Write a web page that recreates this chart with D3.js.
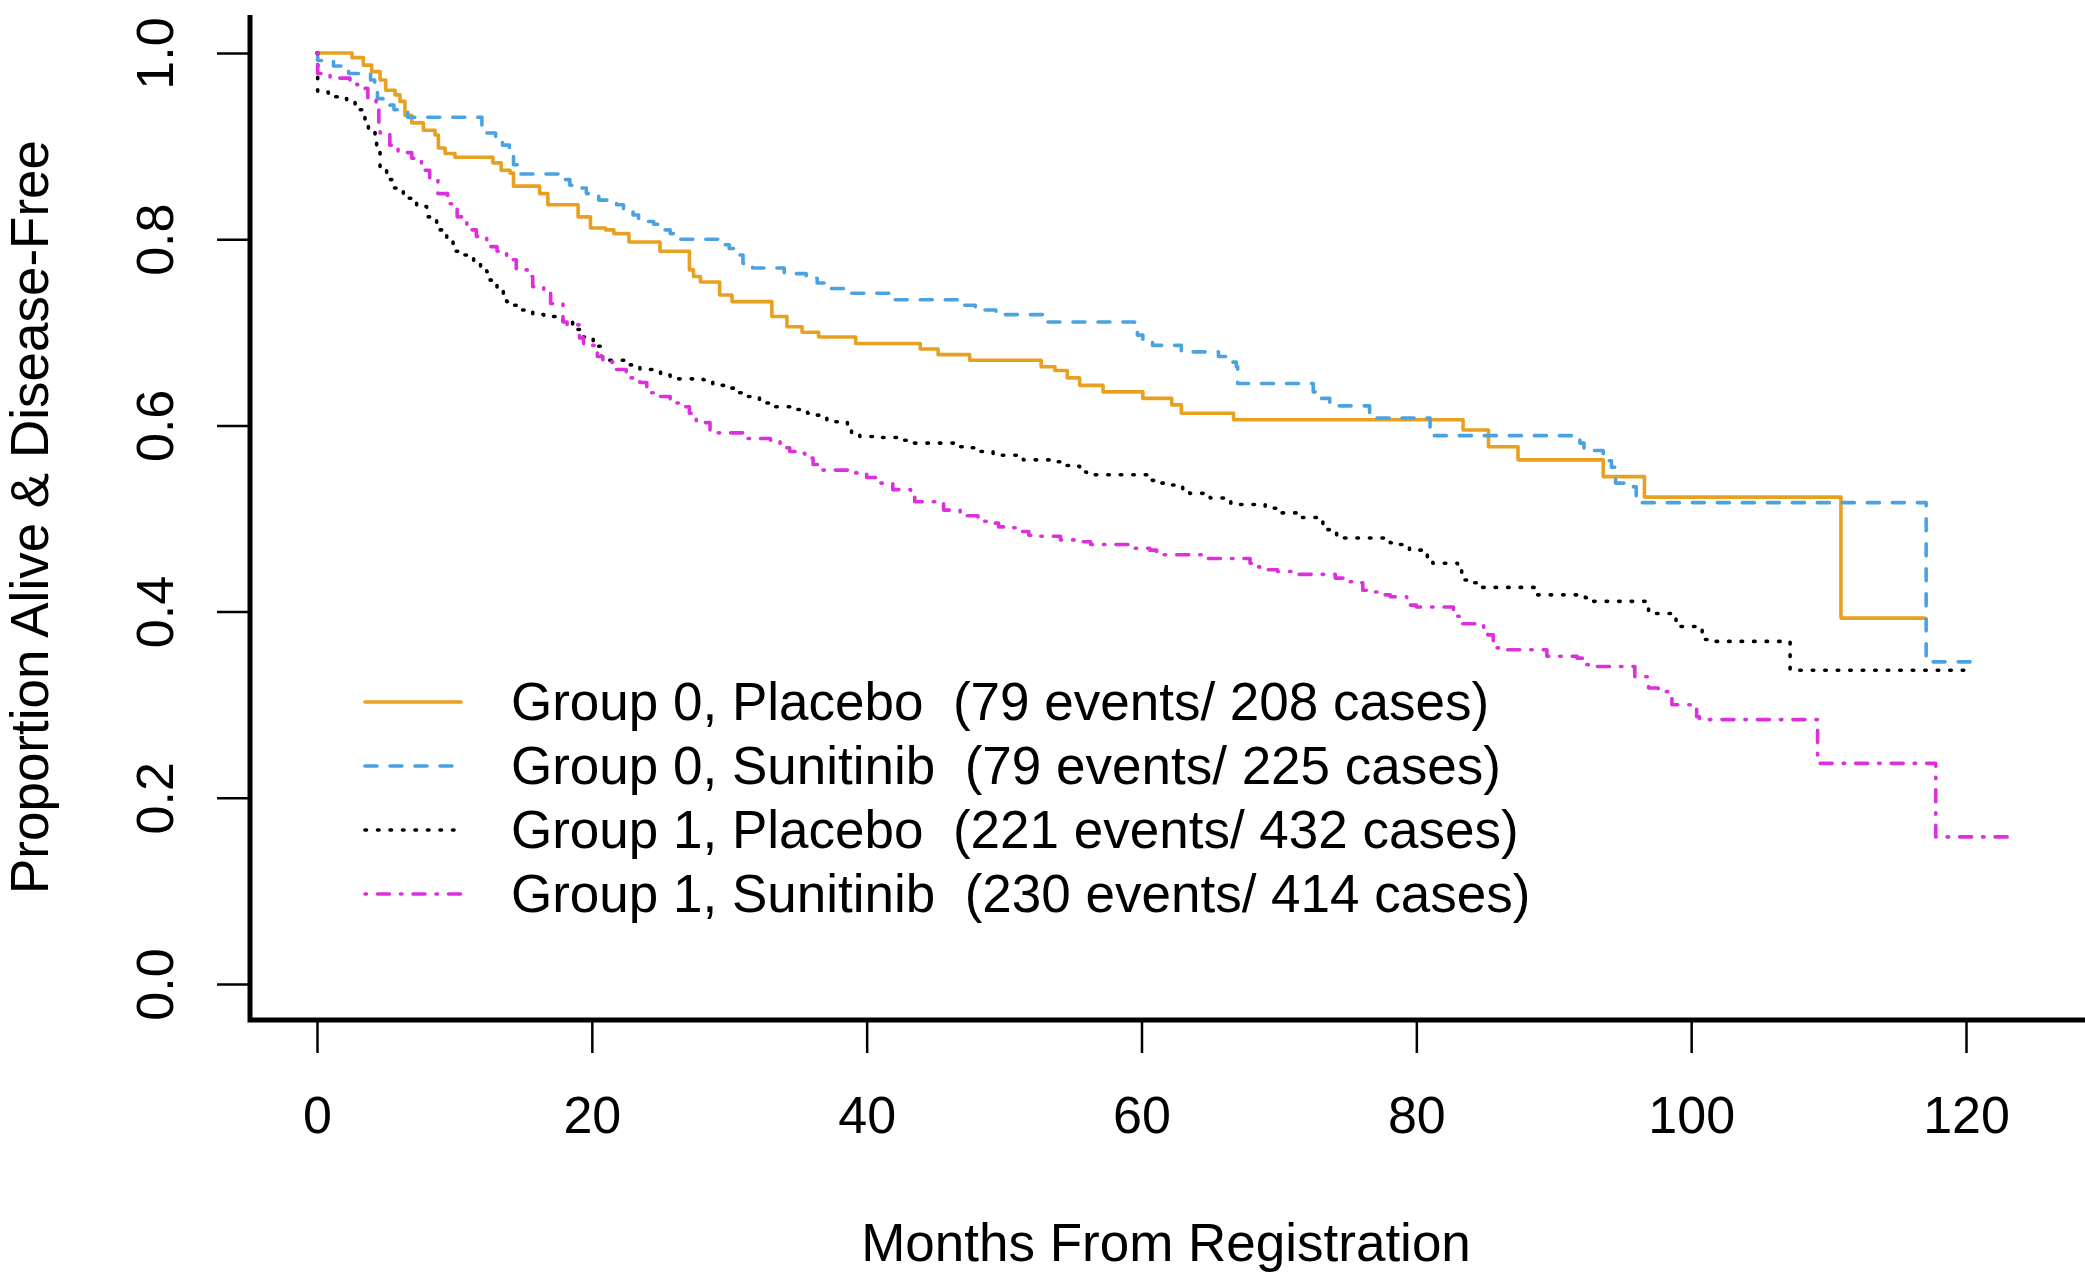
<!DOCTYPE html>
<html><head><meta charset="utf-8">
<script src="https://cdn.jsdelivr.net/npm/d3@7"></script>
<style>body{margin:0;background:#fff} svg{display:block;background:#fff}</style>
</head><body>
<svg id="chart" width="2085" height="1272"></svg>
<script>
// ---- data ----
const xTicks = [0, 20, 40, 60, 80, 100, 120];
const yTicks = [0, 0.2, 0.4, 0.6, 0.8, 1.0];
const yTickLabels = ["0.0", "0.2", "0.4", "0.6", "0.8", "1.0"];
const xTitle = "Months From Registration";
const yTitle = "Proportion Alive & Disease-Free";

const seriesNames = [
  "Group 0, Placebo  (79 events/ 208 cases)",
  "Group 0, Sunitinib  (79 events/ 225 cases)",
  "Group 1, Placebo  (221 events/ 432 cases)",
  "Group 1, Sunitinib  (230 events/ 414 cases)"
];
const seriesColors = ["#E8A020", "#4AA3E0", "#000000", "#DD30DD"];
const seriesDash = ["none", "12,13", "1.5,11", "1.5,11,12,11"];

const g0PlaceboT = [0,2.55,3.37,3.98,4.59,5.0,5.68,6.04,6.4,6.89,7.74,8.59,8.83,9.32,10.04,12.8,13.4,14.05,14.3,16.2,16.8,19.0,19.9,21.0,21.6,22.7,24.96,27.1,27.4,27.9,29.3,30.2,33.1,34.2,35.3,36.5,39.2,43.9,45.2,47.5,52.7,53.7,54.6,55.5,57.2,60.1,62.2,62.9,66.7,83.4,85.25,87.4,93.6,96.6,110.9,117.0];
const g0PlaceboS = [1.0,0.995,0.987,0.980,0.971,0.960,0.955,0.948,0.933,0.925,0.917,0.912,0.898,0.892,0.888,0.882,0.874,0.871,0.857,0.849,0.837,0.824,0.812,0.810,0.806,0.797,0.787,0.767,0.760,0.754,0.740,0.733,0.717,0.706,0.700,0.695,0.688,0.682,0.676,0.670,0.663,0.659,0.651,0.643,0.636,0.629,0.622,0.613,0.606,0.595,0.577,0.563,0.545,0.523,0.393,0.393];

const g0SunitinibT = [0,0.05,1.2,2.3,3.9,4.2,4.4,4.8,5.6,6.6,12.0,12.35,13.0,13.5,14.0,14.3,14.8,17.9,18.4,19.1,19.6,20.5,21.8,22.3,23.0,23.4,24.5,25.0,25.7,26.1,29.5,30.0,30.7,31.0,31.7,34.0,35.6,36.4,36.9,38.8,41.9,47.0,47.9,49.4,52.8,59.5,59.7,60.1,60.8,62.9,65.6,66.3,66.9,67.0,72.5,73.1,73.7,76.6,81.0,91.9,92.2,93.6,94.2,94.5,95.8,96.0,96.4,117.1,120.8];
const g0SunitinibS = [1.0,0.992,0.986,0.978,0.971,0.964,0.951,0.944,0.939,0.931,0.921,0.914,0.906,0.901,0.890,0.880,0.870,0.864,0.858,0.855,0.849,0.842,0.837,0.831,0.826,0.819,0.816,0.810,0.806,0.800,0.794,0.790,0.783,0.774,0.769,0.763,0.758,0.753,0.747,0.742,0.735,0.729,0.724,0.719,0.711,0.704,0.697,0.692,0.686,0.679,0.674,0.668,0.663,0.645,0.636,0.629,0.621,0.608,0.589,0.581,0.573,0.562,0.555,0.538,0.534,0.520,0.517,0.346,0.346];

const g1PlaceboT = [0,0.05,0.82,1.55,2.16,2.77,3.49,3.74,4.22,4.34,4.59,5.07,5.56,6.28,7.25,7.98,8.71,9.44,9.9,10.4,10.9,11.4,11.9,12.35,12.6,13.1,13.56,13.8,14.3,14.8,15.4,15.7,16.5,17.9,18.6,19.1,20.1,20.4,20.7,21.3,22.8,23.5,25.0,25.7,28.1,28.8,29.6,30.7,31.0,32.2,33.0,34.9,35.7,36.4,37.1,38.6,38.9,39.5,40.5,42.4,43.2,46.6,47.5,48.3,49.2,51.4,53.3,54.3,54.7,55.5,56.0,60.4,61.4,62.1,63.0,63.5,64.5,65.0,66.5,69.0,69.9,71.5,73.0,73.2,74.2,74.7,78.1,78.8,79.5,80.8,81.2,83.0,83.3,83.9,84.6,88.8,92.3,92.5,96.9,98.9,100.8,101.3,107.2,119.9];
const g1PlaceboS = [1.0,0.958,0.953,0.951,0.948,0.939,0.928,0.916,0.908,0.896,0.878,0.864,0.855,0.844,0.835,0.824,0.810,0.799,0.787,0.783,0.780,0.774,0.769,0.765,0.756,0.745,0.738,0.733,0.729,0.724,0.722,0.719,0.717,0.711,0.703,0.695,0.690,0.685,0.674,0.670,0.665,0.660,0.654,0.650,0.649,0.643,0.640,0.635,0.631,0.624,0.620,0.617,0.613,0.611,0.604,0.595,0.592,0.588,0.587,0.584,0.581,0.577,0.576,0.572,0.568,0.563,0.561,0.557,0.556,0.550,0.547,0.541,0.538,0.536,0.531,0.527,0.523,0.522,0.515,0.511,0.506,0.501,0.497,0.488,0.481,0.479,0.474,0.472,0.466,0.459,0.452,0.445,0.434,0.431,0.426,0.418,0.415,0.411,0.398,0.384,0.370,0.368,0.337,0.337];

const g1SunitinibT = [0,0.05,0.95,2.4,2.9,3.1,3.7,4.3,4.5,4.6,5.3,5.9,6.9,7.6,8.2,8.8,9.5,10.2,10.9,11.6,12.35,13.1,13.8,14.5,15.3,15.7,16.5,17.0,17.9,18.2,19.1,19.4,20.4,20.8,21.8,22.5,23.5,24.0,25.0,25.7,26.6,27.1,27.6,28.6,31.0,33.0,33.7,34.4,34.9,35.5,36.1,36.8,39.0,40.0,40.8,41.9,43.2,43.5,45.0,45.6,46.8,48.1,48.5,49.0,49.6,50.3,51.0,51.8,52.4,54.1,55.5,56.3,59.4,60.6,61.1,64.5,67.9,68.4,68.6,69.9,71.1,74.1,74.7,75.4,76.1,76.6,77.6,78.1,79.3,79.5,80.0,82.7,83.2,84.9,85.2,85.6,86.1,89.5,91.7,92.2,92.6,95.9,96.9,97.6,98.6,100.4,100.6,109.2,117.8,123.5];
const g1SunitinibS = [1.0,0.978,0.973,0.971,0.966,0.962,0.951,0.942,0.924,0.914,0.901,0.893,0.887,0.874,0.864,0.849,0.838,0.824,0.810,0.803,0.792,0.787,0.778,0.767,0.760,0.749,0.742,0.731,0.711,0.708,0.694,0.686,0.674,0.668,0.660,0.651,0.646,0.635,0.631,0.624,0.620,0.613,0.603,0.592,0.586,0.584,0.576,0.572,0.570,0.565,0.558,0.552,0.549,0.544,0.538,0.531,0.523,0.518,0.517,0.509,0.503,0.498,0.497,0.495,0.491,0.490,0.486,0.482,0.481,0.477,0.475,0.472,0.468,0.466,0.461,0.457,0.452,0.448,0.445,0.443,0.440,0.436,0.432,0.431,0.423,0.421,0.418,0.416,0.411,0.407,0.405,0.395,0.387,0.382,0.375,0.361,0.359,0.352,0.350,0.343,0.341,0.330,0.318,0.314,0.300,0.287,0.284,0.237,0.158,0.158];

const seriesT = [g0PlaceboT, g0SunitinibT, g1PlaceboT, g1SunitinibT];
const seriesS = [g0PlaceboS, g0SunitinibS, g1PlaceboS, g1SunitinibS];

// ---- drawing ----
const FONT = "'Liberation Sans', Arial, Helvetica, sans-serif";
const svg = d3.select("#chart");
const x = d3.scaleLinear().domain([0, 120]).range([317, 1966]);
const y = d3.scaleLinear().domain([0, 1]).range([984, 53]);

// curves
const line = d3.line().curve(d3.curveStepAfter).x(d => x(d[0])).y(d => y(d[1]));
seriesT.forEach((ts, i) => {
  const pts = ts.map((t, j) => [t, seriesS[i][j]]);
  svg.append("path")
    .attr("d", line(pts))
    .attr("fill", "none")
    .attr("stroke", seriesColors[i])
    .attr("stroke-width", 3.6)
    .attr("stroke-linecap", "round")
    .attr("stroke-linejoin", "round")
    .attr("stroke-dasharray", seriesDash[i]);
});

// axes
const yAxis = svg.append("g").attr("transform", "translate(250,0)")
  .call(d3.axisLeft(y).tickValues(yTicks).tickSize(33).tickFormat((d, i) => yTickLabels[i]));
yAxis.select(".domain").remove();
yAxis.selectAll(".tick line").attr("stroke", "#000").attr("stroke-width", 2.5);
yAxis.selectAll(".tick text")
  .attr("x", null).attr("dy", null)
  .attr("transform", "translate(-77,0) rotate(-90)")
  .attr("text-anchor", "middle")
  .attr("fill", "#000")
  .style("font-family", FONT).style("font-size", "52px");

const xAxis = svg.append("g").attr("transform", "translate(0,1020)")
  .call(d3.axisBottom(x).tickValues(xTicks).tickSize(33));
xAxis.select(".domain").remove();
xAxis.selectAll(".tick line").attr("stroke", "#000").attr("stroke-width", 2.5);
xAxis.selectAll(".tick text")
  .attr("y", 113).attr("dy", null)
  .attr("fill", "#000")
  .style("font-family", FONT).style("font-size", "52px");

// L-shaped frame
svg.append("path")
  .attr("d", `M${x.range()[0] - 67},15 V1020 H2085`)
  .attr("fill", "none").attr("stroke", "#000").attr("stroke-width", 5);

// titles
svg.append("text").attr("x", 1166).attr("y", 1261)
  .attr("text-anchor", "middle").style("font-family", FONT).style("font-size", "53px")
  .text(xTitle);
svg.append("text").attr("transform", "translate(48,517) rotate(-90)")
  .attr("text-anchor", "middle").style("font-family", FONT).style("font-size", "53px")
  .text(yTitle);

// legend
const legend = svg.append("g");
seriesNames.forEach((name, i) => {
  const ly = 702 + i * 64;
  legend.append("line").attr("x1", 365).attr("x2", 461).attr("y1", ly).attr("y2", ly)
    .attr("stroke", seriesColors[i]).attr("stroke-width", 3.6)
    .attr("stroke-linecap", "round")
    .attr("stroke-dasharray", seriesDash[i]);
  legend.append("text").attr("x", 511).attr("y", ly + 18)
    .style("font-family", FONT).style("font-size", "53px").style("white-space", "pre")
    .attr("xml:space", "preserve")
    .text(name);
});
</script>
</body></html>
